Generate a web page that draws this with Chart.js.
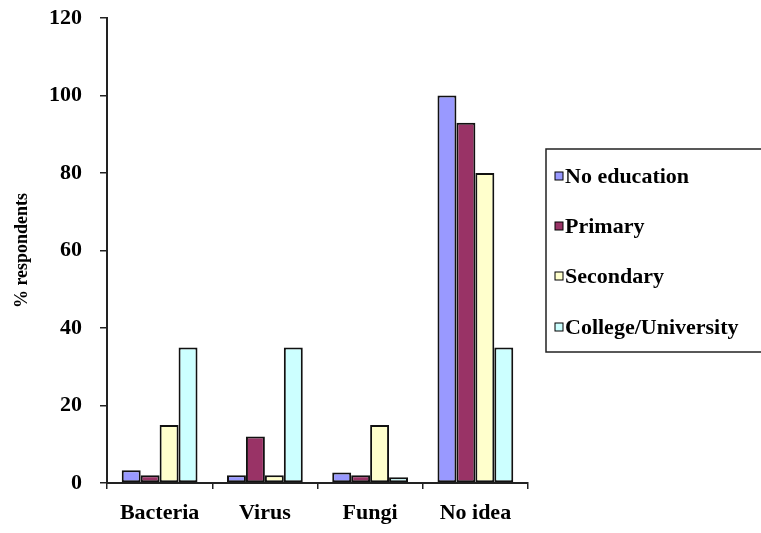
<!DOCTYPE html>
<html>
<head>
<meta charset="utf-8">
<script src="https://cdn.jsdelivr.net/npm/chart.js@4/dist/chart.umd.min.js"></script>
<style>
  html, body { margin: 0; padding: 0; background: #fff; }
  #wrap { width: 761px; height: 533px; position: relative; }
</style>
</head>
<body>
<div id="wrap"><canvas id="c" width="761" height="533"></canvas></div>
<script>
// Knowledge of the cause, by education level (% respondents)
const categories = ['Bacteria', 'Virus', 'Fungi', 'No idea'];
const seriesNames = ['No education', 'Primary', 'Secondary', 'College/University'];
const noEducation = [3.3, 2, 2.7, 100];
const primary = [2, 12, 2, 93];
const secondary = [15, 2, 15, 80];
const collegeUniversity = [35, 35, 1.5, 35];
const yTicks = [0, 20, 40, 60, 80, 100, 120];

const seriesColors = ['#9999FF', '#993366', '#FFFFCC', '#CCFFFF'];
const seriesValues = [noEducation, primary, secondary, collegeUniversity];

const serif = '"Liberation Serif", "Times New Roman", serif';

// Boxed legend on the right, drawn from the datasets
const boxLegend = {
  id: 'boxLegend',
  afterDraw(chart) {
    const ctx = chart.ctx;
    ctx.save();
    ctx.fillStyle = '#fff';
    ctx.strokeStyle = '#222';
    ctx.lineWidth = 1.5;
    ctx.fillRect(546, 149, 230, 203);
    ctx.strokeRect(546, 149, 230, 203);
    const rows = [177, 227, 277, 328];
    ctx.font = 'bold 22px ' + serif;
    ctx.textBaseline = 'middle';
    ctx.textAlign = 'left';
    chart.data.datasets.forEach((ds, i) => {
      const y = rows[i];
      ctx.fillStyle = ds.backgroundColor;
      ctx.fillRect(555, y - 5, 8, 8);
      ctx.lineWidth = 1;
      ctx.strokeStyle = '#000';
      ctx.strokeRect(555, y - 5, 8, 8);
      ctx.fillStyle = '#000';
      ctx.fillText(ds.label, 565, y);
    });
    ctx.restore();
  }
};

new Chart(document.getElementById('c'), {
  type: 'bar',
  data: {
    labels: categories,
    datasets: seriesNames.map((name, i) => ({
      label: name,
      data: seriesValues[i],
      backgroundColor: seriesColors[i],
      borderColor: '#111',
      borderWidth: 2,
      borderSkipped: false,
      categoryPercentage: 0.72,
      barPercentage: 1.0
    }))
  },
  options: {
    responsive: false,
    animation: false,
    devicePixelRatio: 1,
    layout: { autoPadding: false, padding: { top: 18, right: 233, left: 0, bottom: 0 } },
    plugins: {
      legend: { display: false },
      tooltip: { enabled: false }
    },
    scales: {
      x: {
        afterFit(scale) { scale.height = 50; scale.paddingLeft = 0; scale.paddingRight = 0; },
        grid: { drawOnChartArea: false, tickLength: 6, color: '#222', lineWidth: 1.5 },
        border: { color: '#222', width: 2 },
        ticks: {
          color: '#000',
          padding: 11,
          font: { family: serif, size: 22, weight: 'bold' }
        }
      },
      y: {
        min: 0,
        max: 120,
        afterFit(scale) { scale.width = 107; scale.paddingTop = 0; scale.paddingBottom = 0; },
        afterBuildTicks(scale) { scale.ticks = yTicks.map(v => ({ value: v })); },
        grid: { drawOnChartArea: false, tickLength: 7, color: '#222', lineWidth: 1.5 },
        border: { color: '#222', width: 2 },
        ticks: {
          color: '#000',
          padding: 18,
          font: { family: serif, size: 22, weight: 'bold' }
        },
        title: {
          display: true,
          text: '% respondents',
          color: '#000',
          padding: { top: 12, bottom: 0 },
          font: { family: serif, size: 18, weight: 'bold' }
        }
      }
    }
  },
  plugins: [boxLegend]
});
</script>
</body>
</html>
